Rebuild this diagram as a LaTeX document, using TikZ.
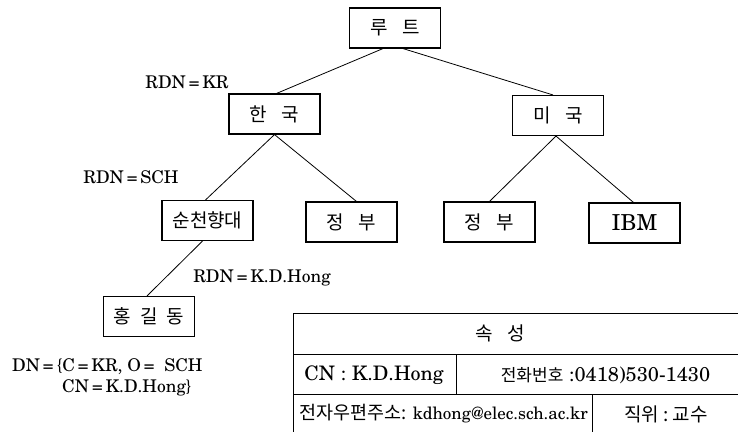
\documentclass[tikz,border=0pt]{standalone}
\usepackage{fontspec}
\setmainfont{texgyreschola}[Extension=.otf, UprightFont=*-regular, BoldFont=*-bold]
\newfontfamily\kr{Noto Sans CJK KR}
\begin{document}
\begin{tikzpicture}[x=1pt,y=-1pt,
  entry/.style={draw, line width=1.1pt, minimum width=91pt, minimum height=40pt, inner sep=0pt, font=\kr\fontsize{19}{22}\selectfont},
  lbl/.style={inner sep=0pt, font=\fontsize{17.5}{22}\selectfont},
  cell/.style={inner sep=0pt, font=\fontsize{20}{22}\selectfont}]
  \useasboundingbox (0,0) rectangle (738,432);
  % tree
  \node[entry] (root) at (395,28) {루\hspace{15pt}트};
  \node[entry] (korea) at (274.5,114) {한\hspace{15pt}국};
  \node[entry] (usa) at (558,115.5) {미\hspace{15pt}국};
  \node[entry] (sch) at (207.5,220.5) {순천향대};
  \node[entry] (govkr) at (351.5,222) {정\hspace{15pt}부};
  \node[entry] (govus) at (489.5,222) {정\hspace{15pt}부};
  \node[entry, font=\fontsize{22}{24}\selectfont] (ibm) at (634.5,223) {IBM};
  \node[entry] (hong) at (149,316.5) {홍\hspace{9pt}길\hspace{9pt}동};
  \draw[line width=0.8pt] ([xshift=-12]root.south) -- ([xshift=2]korea.north);
  \draw[line width=0.8pt] ([xshift=8]root.south) -- ([xshift=-5]usa.north);
  \draw[line width=0.8pt] (korea.south) -- ([xshift=-2]sch.north);
  \draw[line width=0.8pt] (korea.south) -- ([xshift=5]govkr.north);
  \draw[line width=0.8pt] ([xshift=-2]usa.south) -- (govus.north);
  \draw[line width=0.8pt] ([xshift=-2]usa.south) -- ([xshift=-1]ibm.north);
  \draw[line width=0.8pt] ([xshift=-5]sch.south) -- ([xshift=-2]hong.north);
  \node[lbl] (rdnkr) at (187,82) {RDN\,=\,KR};
  \node[lbl] (rdnsch) at (131,177) {RDN\,=\,SCH};
  \node[lbl] (rdnhong) at (262,278) {RDN\,=\,K.D.Hong};
  \node[lbl, anchor=west] (dn1) at (12,367) {DN\,=\,\{C\,=\,KR, O\,=\ \ SCH};
  \node[lbl, anchor=west] (dn2) at (62,388) {CN\,=\,K.D.Hong\}};
  % attribute table
  \draw[line width=0.9pt] (738,313) -- (293,313) -- (293,432);
  \draw[line width=0.9pt] (293,354) -- (738,354);
  \draw[line width=0.9pt] (293,394) -- (738,394);
  \draw[line width=0.9pt] (456,354) -- (456,394);
  \draw[line width=0.9pt] (592,394) -- (592,432);
  \node[cell, font=\kr\fontsize{19}{22}\selectfont] (attr) at (500,333) {속\hspace{15pt}성};
  \node[cell] (cn) at (374,375) {CN : K.D.Hong};
  \node[cell] (tel) at (605.5,375) {{\kr\fontsize{17}{22}\selectfont 전화번호} :0418)530-1430};
  \node[cell, anchor=west, font=\fontsize{17}{22}\selectfont] (mail) at (299,414) {{\kr\fontsize{18.5}{22}\selectfont 전자우편주소:} kdhong@elec.sch.ac.kr};
  \node[cell, font=\kr\fontsize{19}{22}\selectfont] (title) at (666,414) {직위\hspace{4pt}:\hspace{4pt}교수};
\end{tikzpicture}
\end{document}
